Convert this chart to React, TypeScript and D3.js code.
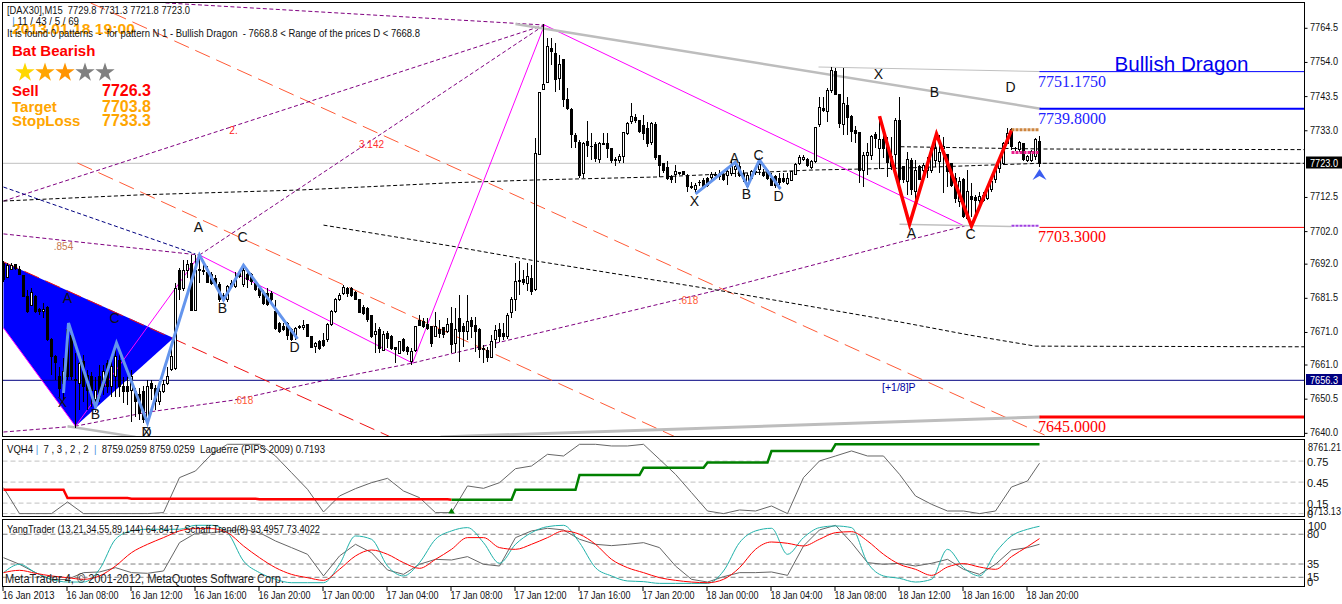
import * as d3 from "d3"

type Pt = [number, number]

// candles, one value per 15 minute bar, oldest first
const opens = [
  7692.3,7687.9,7690.4,7691.8,7690.4,7688.4,7682.0,7679.2,7682.2,7678.1,
  7677.4,7678.7,7668.7,7663.6,7657.6,7655.4,7671.8,7670.2,7656.6,7655.4,
  7662.0,7657.9,7657.4,7650.3,7657.4,7654.4,7661.5,7654.4,7657.4,7662.5,
  7654.4,7654.4,7653.3,7652.8,7651.8,7652.8,7644.1,7655.4,7653.8,7649.7,
  7652.8,7655.4,7659.5,7660.0,7690.2,7684.6,7690.2,7692.3,7677.9,7690.4,
  7690.2,7689.4,7688.7,7687.7,7685.6,7682.5,7681.0,7685.1,7685.1,7689.2,
  7685.6,7688.7,7688.7,7686.1,7684.6,7683.1,7683.1,7683.1,7677.4,7673.8,
  7672.8,7673.8,7671.8,7669.7,7672.8,7672.6,7673.3,7669.7,7666.6,7668.2,
  7668.5,7668.7,7673.3,7677.4,7681.0,7682.9,7684.6,7684.6,7683.3,7681.0,
  7678.7,7678.4,7676.1,7670.5,7671.8,7665.6,7670.7,7669.7,7666.3,7664.6,
  7668.9,7666.4,7662.0,7665.6,7674.8,7674.3,7673.3,7672.8,7669.7,7671.8,
  7672.6,7671.3,7673.8,7667.7,7675.4,7672.8,7671.3,7674.6,7673.2,7671.8,
  7665.8,7665.6,7663.4,7668.7,7672.0,7670.7,7669.7,7677.1,7681.2,7686.7,
  7687.4,7686.1,7687.7,7684.3,7725.8,7745.7,7747.8,7758.3,7756.8,7749.1,
  7754.8,7742.7,7739.4,7731.5,7729.3,7719.9,7729.6,7728.2,7728.9,7724.2,
  7729.1,7729.1,7727.4,7724.2,7723.8,7725.2,7732.2,7735.8,7737.1,7736.1,
  7734.7,7733.7,7729.3,7734.8,7725.5,7723.0,7721.7,7718.9,7719.7,7720.1,
  7720.5,7719.4,7715.9,7714.8,7717.0,7717.8,7718.4,7718.7,7719.6,7719.7,
  7719.7,7719.1,7719.9,7721.1,7721.9,7719.9,7716.0,7718.4,7720.1,7721.1,
  7720.1,7720.7,7718.4,7718.9,7718.2,7718.4,7716.8,7717.8,7719.6,7723.0,
  7724.2,7724.2,7721.6,7723.5,7734.8,7739.9,7738.9,7745.3,7751.2,7744.0,
  7734.8,7740.9,7737.3,7733.2,7732.4,7720.7,7725.5,7725.5,7731.9,7727.6,
  7730.2,7728.1,7725.0,7725.8,7736.1,7721.9,7717.3,7724.0,7714.3,7721.9,
  7720.7,7720.9,7720.9,7724.0,7723.5,7727.6,7725.8,7723.0,7718.4,7711.2,
  7717.9,7706.1,7712.9,7712.5,7711.7,7713.2,7712.2,7714.8,7717.9,7721.4,
  7723.0,7729.1,7733.4,7727.6,7727.1,7729.1,7724.0,7724.0,7725.0,7729.8,
]
const highs = [
  7693.1,7692.3,7692.3,7692.1,7691.3,7688.7,7684.1,7684.6,7682.5,7678.4,
  7680.0,7679.2,7669.2,7664.1,7660.5,7663.1,7673.8,7671.8,7664.6,7662.0,
  7664.1,7659.5,7658.9,7657.4,7661.0,7661.0,7662.5,7662.0,7667.2,7664.6,
  7657.4,7657.4,7659.5,7653.8,7653.8,7654.4,7656.4,7656.4,7654.9,7655.4,
  7656.4,7660.5,7666.6,7686.1,7690.7,7693.3,7693.3,7694.8,7694.8,7694.3,
  7692.3,7691.3,7689.7,7688.7,7686.6,7683.1,7685.6,7687.2,7689.7,7690.2,
  7690.7,7690.2,7689.2,7687.2,7685.6,7684.1,7684.6,7683.6,7681.0,7674.3,
  7673.8,7674.3,7672.3,7672.8,7673.2,7674.8,7673.5,7669.9,7668.2,7668.7,
  7670.7,7673.8,7677.9,7681.5,7683.1,7685.6,7685.1,7685.1,7683.6,7681.2,
  7679.5,7678.7,7676.4,7673.8,7672.8,7671.3,7671.3,7670.2,7666.6,7668.2,
  7669.2,7666.8,7666.1,7673.0,7676.4,7675.4,7675.4,7673.0,7677.4,7674.8,
  7672.8,7675.4,7678.9,7678.4,7682.5,7673.8,7682.5,7675.9,7675.9,7672.3,
  7667.2,7666.6,7670.2,7673.3,7673.8,7673.8,7676.9,7682.0,7692.3,7693.1,
  7690.2,7692.3,7691.8,7730.7,7745.0,7765.8,7761.4,7761.4,7759.9,7756.3,
  7754.8,7746.0,7739.9,7732.2,7730.2,7729.6,7736.1,7732.2,7729.6,7729.6,
  7732.2,7732.2,7727.6,7725.0,7726.0,7732.7,7735.8,7741.4,7738.3,7736.3,
  7737.8,7735.8,7735.8,7735.8,7725.5,7723.2,7723.8,7719.4,7722.5,7720.4,
  7720.7,7719.7,7717.3,7716.8,7717.8,7718.4,7718.7,7720.4,7720.4,7720.9,
  7720.4,7721.4,7724.0,7723.0,7723.5,7720.9,7719.9,7720.9,7721.4,7724.5,
  7721.4,7721.4,7719.9,7719.4,7719.9,7719.9,7720.1,7720.6,7723.0,7725.5,
  7725.5,7724.5,7724.0,7734.2,7743.3,7743.5,7746.0,7752.7,7752.2,7744.0,
  7752.2,7743.5,7737.8,7734.5,7732.7,7726.6,7729.1,7731.7,7732.7,7737.3,
  7732.2,7731.2,7731.2,7736.8,7743.5,7721.9,7726.6,7724.5,7724.0,7722.5,
  7723.0,7725.0,7728.1,7731.2,7731.7,7731.2,7726.0,7723.0,7719.9,7718.9,
  7718.4,7720.9,7716.8,7713.2,7714.3,7714.3,7715.8,7718.9,7721.9,7724.5,
  7729.6,7733.7,7733.7,7728.1,7729.9,7729.3,7725.5,7727.1,7730.7,7731.3,
]
const lows = [
  7686.6,7687.7,7690.2,7690.2,7688.7,7682.0,7676.9,7679.2,7676.9,7676.4,
  7675.4,7668.5,7657.9,7656.4,7651.3,7650.2,7656.4,7656.4,7641.5,7647.2,
  7649.7,7647.2,7648.2,7646.7,7649.7,7651.8,7652.3,7651.3,7651.3,7651.3,
  7649.2,7648.7,7643.6,7645.1,7644.1,7643.1,7642.6,7650.2,7647.2,7648.7,
  7652.3,7654.9,7659.3,7659.5,7681.0,7683.9,7687.7,7677.7,7677.7,7686.1,
  7688.7,7686.1,7685.6,7685.1,7680.5,7680.5,7680.5,7684.6,7684.6,7687.7,
  7685.1,7684.6,7685.6,7683.6,7681.5,7679.5,7679.2,7680.5,7671.8,7670.9,
  7671.3,7668.7,7668.5,7668.7,7672.0,7671.8,7669.5,7666.1,7664.6,7665.6,
  7666.4,7668.2,7673.0,7677.1,7680.8,7682.5,7682.0,7681.8,7681.0,7676.9,
  7676.4,7674.3,7669.2,7664.6,7664.6,7665.4,7666.1,7665.6,7661.5,7664.4,
  7665.1,7664.1,7661.0,7665.1,7673.0,7672.3,7671.8,7666.6,7669.5,7669.2,
  7669.2,7670.7,7664.6,7664.6,7662.0,7666.6,7668.7,7669.2,7665.1,7663.1,
  7661.7,7662.0,7663.1,7666.1,7668.2,7668.7,7668.9,7675.4,7677.7,7682.5,
  7685.6,7683.6,7682.5,7683.6,7725.5,7745.5,7747.6,7753.2,7745.0,7745.5,
  7740.4,7739.4,7727.6,7727.6,7718.4,7718.4,7725.0,7724.0,7723.5,7723.2,
  7728.6,7724.5,7723.0,7722.3,7723.0,7723.0,7731.7,7735.1,7735.3,7732.2,
  7730.2,7728.1,7728.6,7724.0,7718.9,7719.9,7717.9,7716.8,7716.8,7719.4,
  7719.4,7714.3,7715.0,7713.8,7716.0,7715.6,7715.8,7717.3,7718.9,7717.8,
  7717.6,7716.3,7719.1,7718.9,7718.7,7717.3,7715.8,7717.9,7719.4,7719.4,
  7718.9,7717.9,7716.3,7715.3,7716.3,7716.8,7716.3,7717.5,7719.4,7722.5,
  7723.8,7721.9,7721.4,7723.0,7734.2,7738.9,7735.8,7744.5,7744.0,7733.7,
  7731.7,7731.7,7729.6,7729.1,7716.8,7715.8,7719.4,7724.0,7727.6,7721.4,
  7724.5,7718.9,7720.9,7720.9,7715.3,7716.8,7713.2,7713.2,7711.7,7717.9,
  7719.4,7718.4,7719.9,7721.9,7719.9,7713.8,7715.8,7715.8,7710.7,7709.7,
  7706.1,7705.5,7706.6,7707.6,7710.2,7711.2,7711.7,7714.3,7717.0,7719.9,
  7722.5,7728.9,7727.1,7726.9,7726.6,7723.8,7723.5,7723.5,7724.0,7721.8,
]
const closes = [
  7687.2,7691.5,7691.5,7690.7,7688.7,7682.2,7677.4,7683.3,7677.4,7677.4,
  7678.1,7668.7,7663.6,7661.9,7653.8,7659.0,7657.4,7657.4,7656.3,7661.5,
  7654.4,7653.3,7653.3,7653.3,7651.3,7659.0,7654.4,7660.5,7663.6,7654.4,
  7652.8,7652.8,7657.4,7649.7,7646.2,7644.1,7654.4,7653.8,7649.7,7652.8,
  7654.9,7657.4,7663.6,7684.6,7684.1,7690.2,7691.8,7677.9,7690.2,7690.0,
  7689.7,7686.3,7686.1,7685.6,7681.0,7681.0,7685.1,7686.1,7687.2,7688.2,
  7690.2,7687.2,7686.6,7684.1,7682.5,7680.0,7679.5,7681.0,7672.3,7671.3,
  7671.8,7670.2,7668.7,7672.3,7672.6,7673.0,7669.7,7666.4,7667.5,7666.1,
  7666.9,7673.3,7677.4,7681.0,7682.5,7684.8,7683.1,7682.5,7681.2,7677.1,
  7676.9,7674.9,7669.7,7671.2,7666.1,7670.5,7669.2,7666.1,7665.9,7668.2,
  7665.4,7665.1,7665.1,7672.8,7673.0,7672.8,7672.3,7667.5,7672.8,7670.7,
  7670.4,7673.3,7667.2,7671.8,7671.3,7671.3,7674.3,7672.8,7671.3,7665.8,
  7666.1,7663.4,7668.2,7671.6,7669.9,7669.9,7676.2,7681.0,7686.6,7687.1,
  7686.3,7688.2,7683.6,7726.0,7744.7,7747.3,7758.9,7757.3,7748.8,7753.5,
  7742.7,7739.9,7732.0,7729.6,7719.1,7729.1,7728.6,7728.3,7724.5,7729.1,
  7728.9,7727.4,7723.8,7723.8,7725.2,7732.5,7735.3,7737.3,7736.1,7732.7,
  7732.2,7729.1,7735.3,7724.8,7722.3,7720.9,7718.2,7717.9,7720.4,7720.0,
  7719.7,7716.0,7715.7,7716.3,7717.1,7716.0,7716.3,7719.7,7719.4,7718.9,
  7718.1,7720.4,7721.9,7721.9,7719.4,7718.4,7719.4,7720.4,7720.4,7722.5,
  7719.4,7718.4,7716.3,7716.3,7717.0,7717.5,7718.2,7720.4,7722.5,7724.8,
  7724.8,7722.2,7723.6,7734.0,7740.2,7739.2,7745.5,7751.5,7744.0,7735.3,
  7741.4,7737.0,7732.7,7732.2,7720.9,7725.5,7726.2,7731.2,7730.7,7730.2,
  7727.6,7723.2,7721.9,7736.3,7717.9,7717.9,7724.2,7714.8,7720.9,7717.9,
  7722.3,7723.0,7727.6,7727.6,7726.3,7728.1,7720.4,7716.3,7712.2,7717.3,
  7706.6,7714.3,7711.9,7711.7,7712.7,7711.7,7714.8,7717.3,7721.4,7724.0,
  7729.1,7732.2,7728.1,7727.5,7729.3,7724.2,7725.0,7726.6,7730.2,7723.0,
]

const priceTicks = [7764.5, 7754, 7743.5, 7733, 7712.5, 7702, 7692, 7681.5, 7671, 7661, 7650.5, 7640]
const timeLabels = [
  "16 Jan 2013", "16 Jan 08:00", "16 Jan 12:00", "16 Jan 16:00", "16 Jan 20:00", "17 Jan 00:00",
  "17 Jan 04:00", "17 Jan 08:00", "17 Jan 12:00", "17 Jan 16:00", "17 Jan 20:00", "18 Jan 00:00",
  "18 Jan 04:00", "18 Jan 08:00", "18 Jan 12:00", "18 Jan 16:00", "18 Jan 20:00",
]

// drawn objects on the price pane, as [bar, price]
const triangle: Pt[] = [[0, 7692.7], [42.5, 7669.3], [18, 7642.2], [0, 7672.4]]
const redFanA: Pt[] = [[21.75, 7772.3], [260.25, 7639.5]]
const redFanB: Pt[] = [[18.5, 7723.1], [168.5, 7638.6]]
const redFanC: Pt[] = [[0, 7692.7], [96.75, 7638.9]]
const purpleA: Pt[] = [[0, 7711.4], [135.25, 7765.5]]
const purpleB: Pt[] = [[49, 7694.8], [135.25, 7765.5]]
const purpleC: Pt[] = [[40.5, 7772.3], [135.25, 7765.5]]
const purpleD: Pt[] = [[0, 7701.3], [49, 7694.8]]
const purpleE: Pt[] = [[0, 7640.4], [18, 7642.2], [36, 7646.5], [57.5, 7650.2], [78.5, 7655.8], [102.25, 7661.6], [111.75, 7664.4], [149.25, 7675.4], [178.5, 7684], [224.25, 7698.8], [240.25, 7703.7]]
const pivotA: Pt[] = [[0, 7711.4], [34.25, 7713.3], [74.25, 7714.8], [111.75, 7717], [133.5, 7717.9], [163.5, 7718.8], [201.25, 7720.9], [224.25, 7721.5], [259, 7723], [325.25, 7723]]
const pivotB: Pt[] = [[224.25, 7728.1], [259.25, 7727.4], [325.25, 7727.2]]
const pivotC: Pt[] = [[80, 7704], [111.75, 7697.6], [133, 7693], [178.5, 7684], [224.25, 7674.2], [241.5, 7670.2], [258, 7666.8], [325.25, 7666.6]]
const navyDash: Pt[] = [[0, 7715.7], [48, 7695.1]]
const magentaChain: Pt[] = [[18, 7642.2], [49, 7694.8], [102.25, 7661.6], [135.25, 7765.5], [240.25, 7703.7]]
const magentaEdge: Pt[] = [[0, 7672.4], [18, 7642.2]]
const grayTop: Pt[] = [[128, 7765.8], [259.25, 7739.8]]
const grayLowA: Pt[] = [[16, 7642.2], [33, 7638.9]]
const grayLowB: Pt[] = [[109.25, 7638.9], [259.25, 7645]]
const grayThinA: Pt[] = [[203.75, 7752.6], [259.25, 7751.2]]
const grayThinB: Pt[] = [[224, 7704.3], [252, 7703.6]]
const redZigzag: Pt[] = [[219, 7737.5], [226.5, 7704.3], [233.25, 7732], [242, 7703.7], [252, 7733.2]]
const blueZigzagA: Pt[] = [[15, 7652.4], [16.25, 7673.9], [23, 7648.1], [28.25, 7667.8], [36, 7643.2], [49, 7694.8], [55, 7681], [60, 7691.7], [73.5, 7669]]
const blueZigzagB: Pt[] = [[173, 7713.6], [183, 7723.4], [186, 7716], [189, 7724], [194.25, 7715.1]]

const patternLetters: [string, number, number][] = [
  ["A", 16, 7681.6], ["C", 27.75, 7675.4], ["X", 14.75, 7649.6], ["B", 23, 7645.9], ["D", 35.75, 7640.4], ["X", 35.75, 7640.4],
  ["A", 48.75, 7703.4], ["C", 59.75, 7700.3], ["B", 54.75, 7678.5], ["D", 72.75, 7666.5],
  ["X", 172.75, 7711.4], ["A", 182.75, 7724.6], ["B", 185.75, 7713.6], ["C", 188.75, 7725.6], ["D", 193.75, 7713],
  ["X", 218.75, 7750.5], ["B", 232.75, 7744.9], ["D", 251.75, 7746.5], ["A", 227, 7701.6], ["C", 241.75, 7701.3],
]
const fanLabels: [string, number, number, string][] = [
  ["2.", 57.5, 7733.2, "#ff2020"], ["3.142", 92, 7728.9, "#ff3030"], [".854", 15, 7697.6, "#c87850"],
  [".618", 60, 7650.2, "#ff5a36"], [".618", 171.25, 7681, "#ff5a36"],
]
const priceLevels: [number, string, number, string, number][] = [
  [7751.175, "#0000ff", 1, "7751.1750", 15],
  [7739.8, "#0000ff", 2, "7739.8000", 15],
  [7703.3, "#ff0000", 1, "7703.3000", 15],
  [7645, "#ff0000", 3, "7645.0000", 15],
]

// VQH step line, [bar, value]
const vqhRed: Pt[] = [[0, 8729.5], [15, 8729.5], [16, 8724.2], [31, 8724.2], [32, 8723.7], [63, 8723.7], [64, 8723.3], [111, 8723.3], [112, 8723.1]]
const vqhGreen: Pt[] = [[112, 8723.1], [127, 8723.1], [128, 8729.5], [143, 8729.5], [144, 8739.1], [159, 8739.1], [160, 8743.8], [175, 8743.8], [176, 8747.3], [191, 8747.3], [192, 8754.7], [207, 8754.7], [208, 8759.03], [259, 8759.03]]

// oscillators, read every fourth bar plus the last one
const laguerre = [
  .37,0,0,0,.166,0,0,0,0,0,.014,.514,.609,.847,.99,.99,.99,.823,.585,.347,.023,.252,.357,.442,.504,.323,.228,.014,
  .014,.395,.361,.442,.642,.68,.847,.823,.99,.99,.966,.966,.99,.776,.561,.3,.037,0,.052,.037,.109,0,.514,.752,.823,.895,.823,.823,.561,
  .252,.133,.037,.037,0,.037,.38,.466,.7193,
]
const yangGray = [
  44.6,34.6,22,10.9,11.9,22,23,29.5,22,21,24.5,67.3,81.4,82.4,85,87.5,82.4,69.8,59.8,49.7,17,47.2,64.8,52.2,26,19.4,34.6,42.1,
  41.1,46.2,34.6,32,74.9,85,89,86.5,72.4,64.8,62.8,64.8,67.3,59.8,32,11.9,7.8,15.9,22,22,23,17.9,62.3,86.5,93.5,67.3,37.1,34.6,36.1,
  32,36.1,42.1,27,19.4,34.6,56.2,59.8,64.84,
]
const schaffTeal = [
  22,34.6,22,11.9,7.8,7.8,27,72.4,85,87.5,87.5,87.5,93.5,93.5,82.4,39.6,22,11.9,6.8,6.8,6.8,34.6,77.4,72.4,32,17,37.1,72.4,
  85,90,67.3,36.1,64.8,82.4,91.5,93.5,67.3,29.5,17,9.4,8.4,5.8,5.8,5.8,5.8,24.5,67.3,85,89,49.7,74.9,90,92.5,90,37.1,17,13.4,
  7.8,11.9,57.2,29.5,17,52.2,77.4,87.5,92,
]
const schaffRed = [
  22,25.5,21,17,14.4,11.9,17,32,52.2,64.8,74.9,85,88.5,88.5,82.4,62.3,44.6,29.5,19.4,14.4,10.4,27,47.2,56.2,49.7,37.1,28.5,42.1,
  57.2,74.9,74.9,59.8,57.2,64.8,74.9,85,79.9,64.8,42.1,29.5,22,14.4,10.4,7.8,6.8,11.9,29.5,57.2,68.3,66.3,62.3,72.4,82.4,83.9,69.8,49.7,34.6,
  27,17.9,30.5,35.6,30.5,27,46.2,61.3,73.4,
]
const sampleBars = [...d3.range(0, 260, 4), 259]

const laguerreLevels = [0.75, 0.45, 0.15, 0]
const yangLevels = [80, 35, 15]
const starColors = ["#ffd700", "#ffa500", "#ff9400", "#808080", "#808080"]

const left = 2.5
const right = 1304.5
const ui = "'Liberation Sans', Arial, sans-serif"
const arial = "'Liberation Sans', Arial, sans-serif"
const fit = "spacingAndGlyphs"

const x = d3.scaleLinear().domain([0, 259]).range([3.5, 1039.5])
const y = d3.scaleLinear().domain([7723, 7656.3]).range([163.3, 380.3])
const yLag = d3.scaleLinear().domain([0, 1]).range([513.6, 443.6])
const yVqh = d3.scaleLinear().domain([8713.13, 8761.21]).range([515, 441])
const yOsc = d3.scaleLinear().domain([0, 100]).range([587.2, 521])

const pricePath = d3.line<Pt>().x((d) => x(d[0])).y((d) => y(d[1]))
const vqhPath = d3.line<Pt>().x((d) => x(d[0])).y((d) => yVqh(d[1]))
const oscPath = (values: number[], scale: d3.ScaleLinear<number, number>, curve = false) =>
  d3
    .line<number>()
    .x((_, i) => x(sampleBars[i]))
    .y((d) => scale(d))
    .curve(curve ? d3.curveMonotoneX : d3.curveLinear)(values) as string

function Chart() {
  const star = d3.symbol(d3.symbolStar, 115)() as string

  const overlay = (pts: Pt[], stroke: string, width = 1, dash?: string) => (
    <path d={pricePath(pts) as string} fill="none" stroke={stroke} strokeWidth={width} strokeDasharray={dash} />
  )

  return (
    <svg width={1342} height={604} style={{ position: "absolute", left: 0, top: 0, background: "#fff" }}>
      <defs>
        <clipPath id="main-pane">
          <rect x={3} y={3} width={1301} height={433} />
        </clipPath>
      </defs>

      <g clipPath="url(#main-pane)">
        <path d={pricePath(triangle) + "Z"} fill="#0000ff" />
        <line x1={left} x2={right} y1={y(7723)} y2={y(7723)} stroke="#c0c0c0" />
        <line x1={left} x2={right} y1={y(7656.3)} y2={y(7656.3)} stroke="#000080" />

        {overlay(redFanA, "#ff5a36", 1, "16 7")}
        {overlay(redFanB, "#ff5a36", 1, "16 7")}
        {overlay(redFanC, "#f01010", 1, "16 7")}
        {overlay(purpleA, "#800080", 1, "4 2.5")}
        {overlay(purpleB, "#800080", 1, "4 2.5")}
        {overlay(purpleC, "#800080", 1, "4 2.5")}
        {overlay(purpleD, "#800080", 1, "4 2.5")}
        {overlay(purpleE, "#800080", 1, "4 2.5")}
        {overlay(pivotA, "#000", 1, "4 2.5")}
        {overlay(pivotB, "#000", 1, "4 2.5")}
        {overlay(pivotC, "#000", 1, "4 2.5")}
        {overlay(navyDash, "#000080", 1, "4 2.5")}
        {overlay(magentaChain, "#ff00ff", 1)}
        {overlay(magentaEdge, "#ff00ff", 1)}
        {overlay(grayTop, "#bdbdbd", 2.5)}
        {overlay(grayLowA, "#bdbdbd", 2.5)}
        {overlay(grayLowB, "#bdbdbd", 3)}
        {overlay(grayThinA, "#c0c0c0", 1)}
        {overlay(grayThinB, "#c0c0c0", 1.5)}

        <g shapeRendering="crispEdges">
          {opens.map((o, i) => (
            <g key={i}>
              <line x1={x(i)} x2={x(i)} y1={y(highs[i])} y2={y(lows[i])} stroke="#000" />
              <rect
                x={x(i) - 1}
                width={2}
                y={y(Math.max(o, closes[i]))}
                height={Math.max(Math.abs(y(o) - y(closes[i])), 0.5)}
                fill={closes[i] >= o ? "#fff" : "#000"}
                stroke="#000"
              />
            </g>
          ))}
        </g>

        {overlay(blueZigzagA, "#6495ed", 3)}
        {overlay(blueZigzagB, "#6495ed", 3)}
        {overlay(redZigzag, "#ff0000", 3.5)}

        {priceLevels.map(([p, color, w]) => (
          <line key={p} x1={x(259)} x2={right} y1={y(p)} y2={y(p)} stroke={color} strokeWidth={w} />
        ))}
        <line x1={x(252)} x2={x(259)} y1={y(7733.3)} y2={y(7733.3)} stroke="#cd853f" strokeWidth={3} strokeDasharray="3 1" />
        <line x1={x(252)} x2={x(259)} y1={y(7726.3)} y2={y(7726.3)} stroke="#e91e8c" strokeWidth={3} strokeDasharray="3 1" />
        <line x1={x(252)} x2={x(259)} y1={y(7703.8)} y2={y(7703.8)} stroke="#a040e0" strokeWidth={2} strokeDasharray="3 1" />
        <path transform={`translate(${x(259)},${y(7719.4)})`} d="M0,-6L7,5L0,1L-7,5Z" fill="#3a5cf0" />
      </g>

      {patternLetters.map(([t, bar, p], i) => (
        <text key={i} x={x(bar)} y={y(p) + 5} textAnchor="middle" fontFamily={arial} fontSize={14} fill="#111">
          {t}
        </text>
      ))}
      {fanLabels.map(([t, bar, p, color], i) => (
        <text key={i} x={x(bar)} y={y(p) + 4} textAnchor="middle" fontFamily={arial} fontSize={10} fill={color}>
          {t}
        </text>
      ))}
      {priceLevels.map(([p, color, , label, dy]) => (
        <text key={label} x={1038} y={y(p) + dy} fontFamily="'Liberation Serif', serif" fontSize={16} fill={color === "#0000ff" ? "#2222ff" : color}>
          {label}
        </text>
      ))}
      <text x={1114.5} y={70.5} fontFamily={arial} fontSize={20.6} fill="#0000ee">Bullish Dragon</text>
      <text x={882} y={391} fontFamily={arial} fontSize={10.5} fill="#0000a0">[+1/8]P</text>

      <text x={12} y={33.5} fontFamily={arial} fontWeight="bold" fontSize={15} fill="#ffa500" textLength={123} lengthAdjust={fit}>2013.01.18 19:00</text>
      <text x={7} y={14} fontFamily={ui} fontSize={11} fill="#111" textLength={183} lengthAdjust={fit} xmlSpace="preserve">[DAX30],M15  7729.8 7731.3 7721.8 7723.0</text>
      <text x={12} y={24.5} fontFamily={ui} fontSize={11} fill="#4a90e2">|</text>
      <text x={17.5} y={24.5} fontFamily={ui} fontSize={11} fill="#111" textLength={61.5} lengthAdjust={fit}>11 / 43 / 5 / 69</text>
      <text x={7} y={36.5} fontFamily={ui} fontSize={11} fill="#111" textLength={413} lengthAdjust={fit} xmlSpace="preserve">It is found 0 patterns  -  for pattern N 1 - Bullish Dragon  - 7668.8 &lt; Range of the prices D &lt; 7668.8</text>
      <text x={12} y={56} fontFamily={arial} fontWeight="bold" fontSize={15} fill="#ff0000">Bat Bearish</text>
      {starColors.map((c, i) => (
        <path key={i} d={star} fill={c} transform={`translate(${25 + i * 20},72.5)`} />
      ))}
      <text x={12} y={96} fontFamily={arial} fontWeight="bold" fontSize={15} fill="#ff0000">Sell</text>
      <text x={102} y={96} fontFamily={arial} fontWeight="bold" fontSize={16} fill="#ff0000">7726.3</text>
      <text x={12} y={111.5} fontFamily={arial} fontWeight="bold" fontSize={15} fill="#ffa500">Target</text>
      <text x={102} y={111.5} fontFamily={arial} fontWeight="bold" fontSize={16} fill="#ffa500">7703.8</text>
      <text x={12} y={126} fontFamily={arial} fontWeight="bold" fontSize={15} fill="#ffa500">StopLoss</text>
      <text x={102} y={126} fontFamily={arial} fontWeight="bold" fontSize={16} fill="#ffa500">7733.3</text>

      {/* indicator panes */}
      {laguerreLevels.map((l) => (
        <line key={l} x1={left} x2={right} y1={yLag(l)} y2={yLag(l)} stroke="#c0c0c0" strokeDasharray="5 3" />
      ))}
      <path d={oscPath(laguerre, yLag)} fill="none" stroke="#666" />
      <path d={vqhPath(vqhRed) as string} fill="none" stroke="#ff0000" strokeWidth={2.5} />
      <path d={vqhPath(vqhGreen) as string} fill="none" stroke="#008000" strokeWidth={2.5} />
      <path transform={`translate(${x(112)},${yLag(0) - 2})`} d={d3.symbol(d3.symbolTriangle, 18)() as string} fill="#008000" />

      {yangLevels.map((l) => (
        <line key={l} x1={left} x2={right} y1={yOsc(l)} y2={yOsc(l)} stroke="#808080" strokeDasharray="5 3" />
      ))}
      <path d={oscPath(yangGray, yOsc)} fill="none" stroke="#666" />
      <path d={oscPath(schaffTeal, yOsc, true)} fill="none" stroke="#20b2aa" />
      <path d={oscPath(schaffRed, yOsc, true)} fill="none" stroke="#ff0000" />

      <text x={7} y={452.5} fontFamily={ui} fontSize={11} fill="#111" textLength={318} lengthAdjust={fit} xmlSpace="preserve">
        VQH4 <tspan fill="#4a90e2">|</tspan>  7 , 3 , 2 , 2  <tspan fill="#4a90e2">|</tspan>  8759.0259 8759.0259  Laguerre (PIPS 2009) 0.7193
      </text>
      <text x={7} y={532.5} fontFamily={ui} fontSize={11} fill="#111" textLength={313} lengthAdjust={fit} xmlSpace="preserve">YangTrader (13,21,34,55,89,144) 64.8417  Schaff Trend(8) 93.4957 73.4022</text>
      <text x={5} y={583} fontFamily={ui} fontSize={12.5} fill="#222" textLength={279} lengthAdjust={fit}>MetaTrader 4, © 2001-2012, MetaQuotes Software Corp.</text>

      {/* frames */}
      <g fill="none" stroke="#000" shapeRendering="crispEdges">
        <rect x={left} y={2.5} width={right - left} height={434} />
        <rect x={left} y={439.5} width={right - left} height={77} />
        <rect x={left} y={519.5} width={right - left} height={67} />
      </g>

      {/* price axis */}
      {priceTicks.map((p) => (
        <g key={p}>
          <line x1={right} x2={right + 3} y1={y(p)} y2={y(p)} stroke="#000" />
          <text x={1310} y={y(p) + 3} fontFamily={ui} fontSize={11} fill="#111" textLength={28} lengthAdjust={fit}>{p.toFixed(1)}</text>
        </g>
      ))}
      <rect x={1306} y={156.5} width={36} height={12} fill="#000" />
      <text x={1310} y={166.5} fontFamily={ui} fontSize={11} fill="#fff" textLength={28} lengthAdjust={fit}>7723.0</text>
      <rect x={1306} y={374} width={36} height={11} fill="#000080" />
      <text x={1310} y={383.5} fontFamily={ui} fontSize={11} fill="#fff" textLength={28} lengthAdjust={fit}>7656.3</text>

      <g fontFamily={ui} fontSize={11} fill="#111">
        <text x={1308} y={450.5} textLength={33} lengthAdjust={fit}>8761.21</text>
        <text x={1307} y={465.5}>0.75</text>
        <text x={1307} y={486.5}>0.45</text>
        <text x={1307} y={507.5}>0.15</text>
        <text x={1308} y={515} textLength={33} lengthAdjust={fit}>8713.13</text>
        <text x={1307} y={517.5}>0</text>
        <text x={1308} y={530}>100</text>
        <text x={1307} y={538}>80</text>
        <text x={1307} y={567.5}>35</text>
        <text x={1307} y={580.5}>15</text>
        <text x={1307} y={585.5}>0</text>
      </g>

      {/* time axis */}
      {timeLabels.map((t, i) => (
        <g key={t}>
          <line x1={x(i * 16) - 0.5} x2={x(i * 16) - 0.5} y1={587} y2={591} stroke="#000" />
          <text x={x(i * 16) - 1} y={599} fontFamily={ui} fontSize={11} fill="#111" textLength={52} lengthAdjust={fit}>{t}</text>
        </g>
      ))}
    </svg>
  )
}

export default function App() {
  return <Chart />
}
